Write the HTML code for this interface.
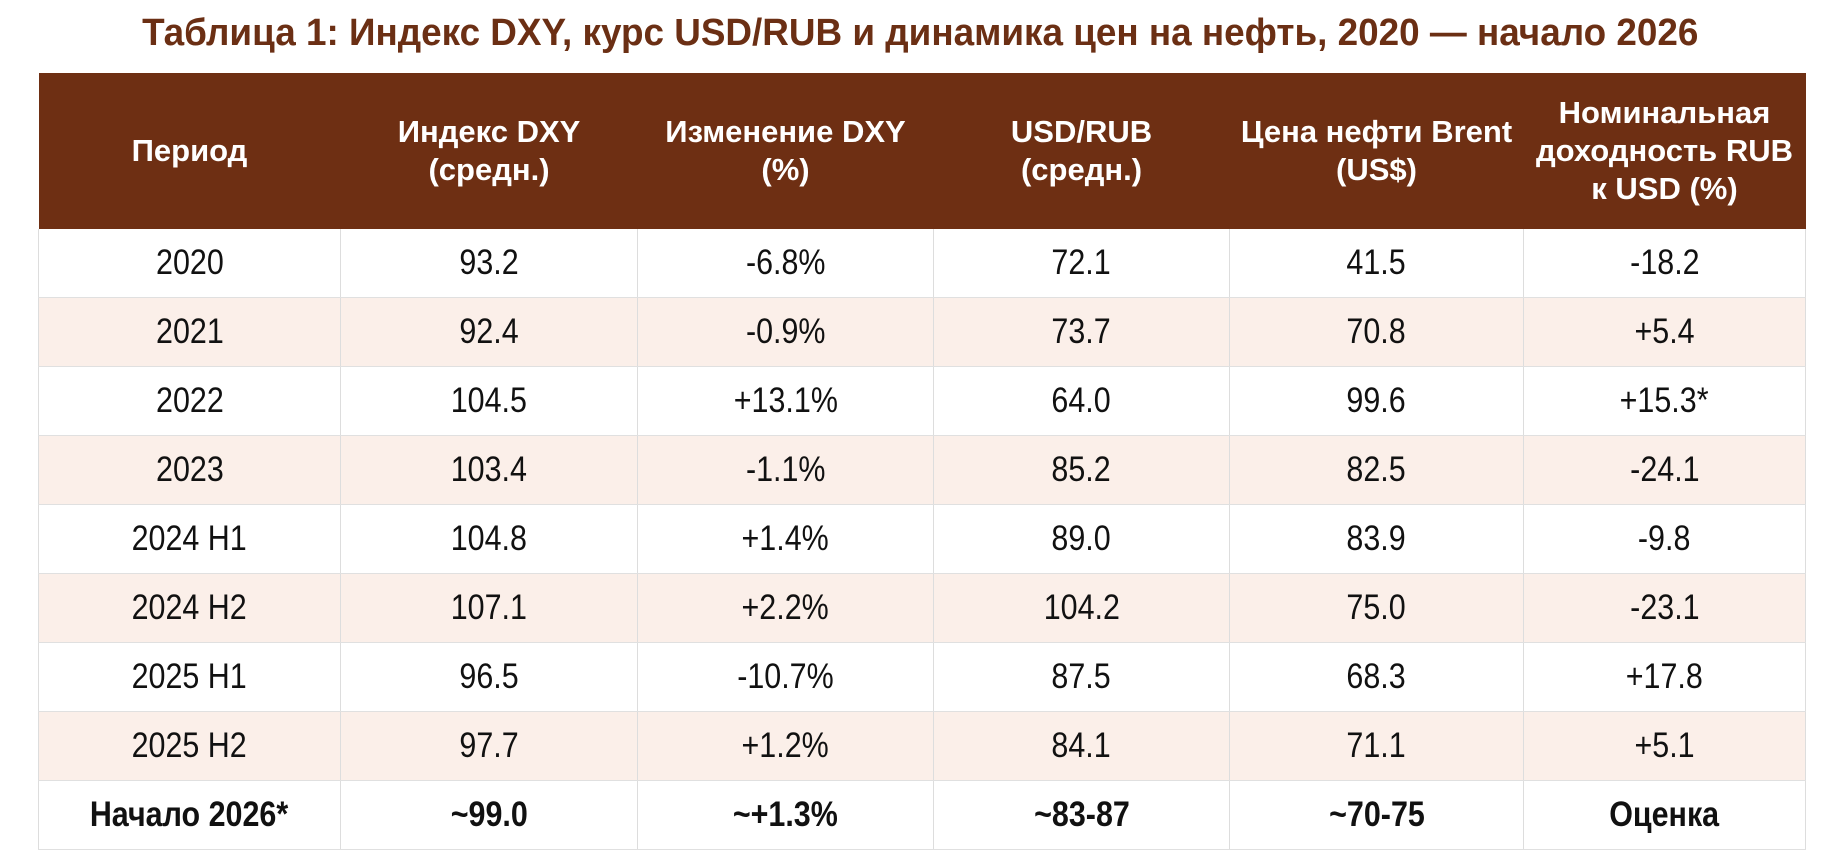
<!DOCTYPE html>
<html><head><meta charset="utf-8"><style>
body{margin:0;width:1840px;height:864px;background:#fff;overflow:hidden;font-family:"Liberation Sans Narrow","Liberation Sans",sans-serif;}
h1{position:absolute;top:12px;left:0;width:1840px;text-align:center;margin:0;font-size:38px;font-weight:bold;color:#6b2f14;}
h1 span{display:inline-block;transform:scaleX(0.97);}
table{position:absolute;left:38px;top:73px;width:1767px;border-collapse:collapse;table-layout:fixed;}
th{background:#6e2f13;color:#fff;font-size:31px;font-weight:bold;height:156px;line-height:38px;padding:0;text-align:center;}
td{height:68px;font-size:35px;color:#111;text-align:center;padding:0;border-left:1px solid #ddd;border-bottom:1px solid #e0e0e0;}
td span{display:inline-block;transform:scaleX(0.87);}
td:last-child{border-right:1px solid #ddd;}
tr.a td{background:#fbefe9;}
tr.b td{font-weight:bold;}
</style></head><body>
<h1><span>Таблица 1: Индекс DXY, курс USD/RUB и динамика цен на нефть, 2020 — начало 2026</span></h1>
<table>
<colgroup><col style="width:302px"><col style="width:297px"><col style="width:296px"><col style="width:296px"><col style="width:294px"><col style="width:282px"></colgroup>
<tr><th>Период</th><th>Индекс DXY<br>(средн.)</th><th>Изменение DXY<br>(%)</th><th>USD/RUB<br>(средн.)</th><th>Цена нефти Brent<br>(US$)</th><th>Номинальная<br>доходность RUB<br>к USD (%)</th></tr>
<tr><td><span>2020</span></td><td><span>93.2</span></td><td><span>-6.8%</span></td><td><span>72.1</span></td><td><span>41.5</span></td><td><span>-18.2</span></td></tr>
<tr class="a"><td><span>2021</span></td><td><span>92.4</span></td><td><span>-0.9%</span></td><td><span>73.7</span></td><td><span>70.8</span></td><td><span>+5.4</span></td></tr>
<tr><td><span>2022</span></td><td><span>104.5</span></td><td><span>+13.1%</span></td><td><span>64.0</span></td><td><span>99.6</span></td><td><span>+15.3*</span></td></tr>
<tr class="a"><td><span>2023</span></td><td><span>103.4</span></td><td><span>-1.1%</span></td><td><span>85.2</span></td><td><span>82.5</span></td><td><span>-24.1</span></td></tr>
<tr><td><span>2024 H1</span></td><td><span>104.8</span></td><td><span>+1.4%</span></td><td><span>89.0</span></td><td><span>83.9</span></td><td><span>-9.8</span></td></tr>
<tr class="a"><td><span>2024 H2</span></td><td><span>107.1</span></td><td><span>+2.2%</span></td><td><span>104.2</span></td><td><span>75.0</span></td><td><span>-23.1</span></td></tr>
<tr><td><span>2025 H1</span></td><td><span>96.5</span></td><td><span>-10.7%</span></td><td><span>87.5</span></td><td><span>68.3</span></td><td><span>+17.8</span></td></tr>
<tr class="a"><td><span>2025 H2</span></td><td><span>97.7</span></td><td><span>+1.2%</span></td><td><span>84.1</span></td><td><span>71.1</span></td><td><span>+5.1</span></td></tr>
<tr class="b"><td><span>Начало 2026*</span></td><td><span>~99.0</span></td><td><span>~+1.3%</span></td><td><span>~83-87</span></td><td><span>~70-75</span></td><td><span>Оценка</span></td></tr>
</table>
</body></html>
